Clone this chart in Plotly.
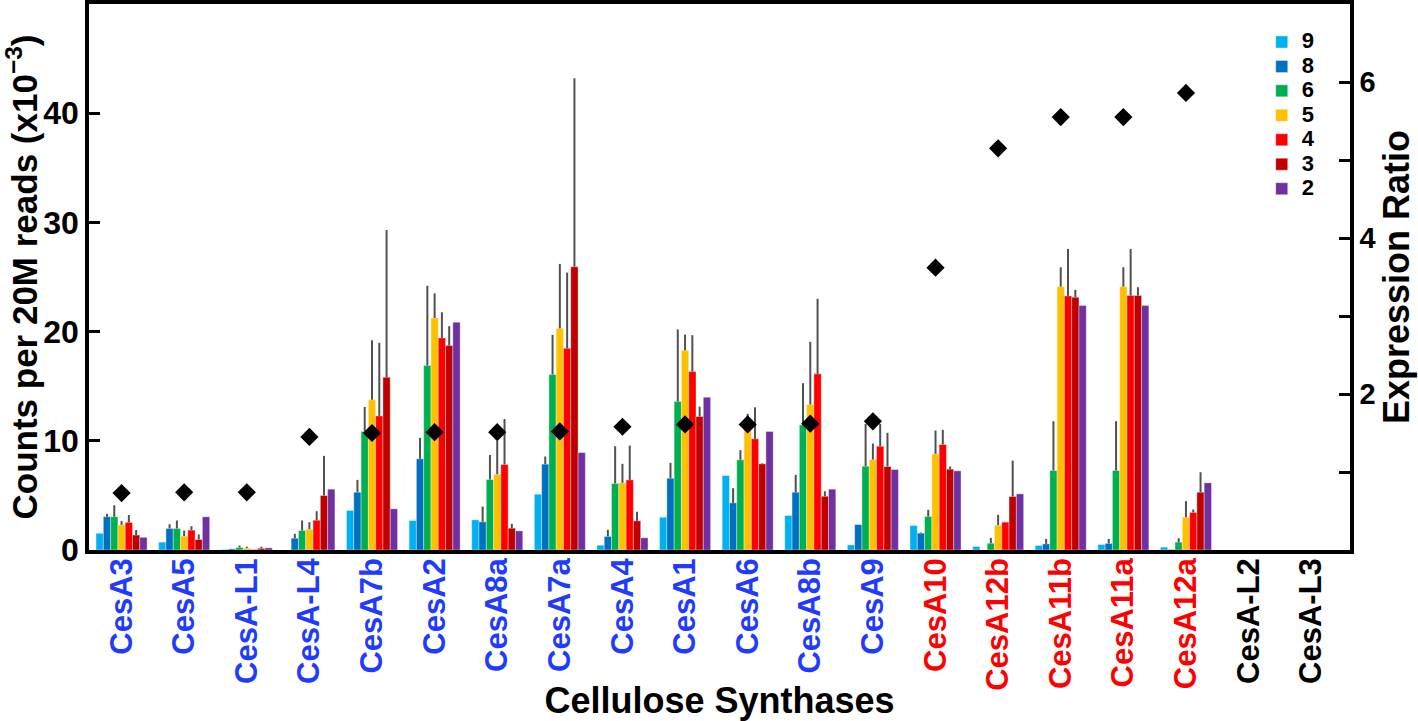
import plotly.graph_objects as go

genes = ["CesA3", "CesA5", "CesA-L1", "CesA-L4", "CesA7b", "CesA2", "CesA8a", "CesA7a",
         "CesA4", "CesA1", "CesA6", "CesA8b", "CesA9", "CesA10", "CesA12b", "CesA11b",
         "CesA11a", "CesA12a", "CesA-L2", "CesA-L3"]
label_colors = ["#1F3BFF"] * 13 + ["#FF0000"] * 5 + ["#000000"] * 2

series_names = ["9", "8", "6", "5", "4", "3", "2"]
series_colors = ["#00B0F0", "#0070C0", "#00B050", "#FFC000", "#FF0000", "#C00000", "#7030A0"]

s9 = [1.53, 0.72, 0.05, 0, 3.62, 2.70, 2.76, 5.11, 0.44, 3.0, 6.82, 3.16, 0.47, 2.24, 0.32, 0.41, 0.5, 0.26, 0, 0]
s8 = [3.05, 1.97, 0.1, 1.08, 5.29, 8.35, 2.58, 7.86, 1.24, 6.57, 4.32, 5.29, 2.33, 1.54, 0, 0.56, 0.6, 0.05, 0, 0]
s6 = [3.05, 1.97, 0.23, 1.78, 10.85, 16.89, 6.45, 16.07, 6.09, 13.59, 8.26, 11.46, 7.67, 3.07, 0.62, 7.28, 7.28, 0.72, 0, 0]
s5 = [2.29, 1.27, 0.17, 1.9, 13.75, 21.25, 6.94, 20.3, 6.15, 18.29, 11.1, 13.32, 8.28, 8.8, 2.27, 24.12, 24.12, 3.0, 0, 0]
s4 = [2.53, 1.82, 0.05, 2.73, 12.28, 19.42, 7.83, 18.47, 6.42, 16.34, 10.18, 16.13, 9.5, 9.66, 2.55, 23.27, 23.3, 3.43, 0, 0]
s3 = [1.37, 0.96, 0.15, 4.99, 15.82, 18.72, 2.0, 25.95, 2.67, 12.22, 7.89, 4.92, 7.64, 7.4, 4.9, 23.14, 23.3, 5.29, 0, 0]
s2 = [1.16, 3.04, 0.2, 5.57, 3.77, 20.85, 1.75, 8.92, 1.12, 13.99, 10.85, 5.57, 7.37, 7.25, 5.14, 22.38, 22.38, 6.15, 0, 0]

e9 = [0] * 20
e8 = [0.25, 0.39, 0, 0.4, 1.13, 1.92, 1.4, 0.7, 0.61, 1.41, 1.34, 1.59, 0, 0.06, 0, 0.46, 0.42, 0, 0, 0]
e6 = [1.05, 0.73, 0.17, 0.92, 2.25, 7.31, 2.26, 3.63, 3.41, 6.61, 0.88, 3.81, 3.88, 0.61, 0.49, 4.51, 4.51, 0.36, 0, 0]
e5 = [0.36, 0.51, 0.13, 0.65, 5.45, 2.25, 3.06, 5.9, 1.74, 1.44, 1.37, 5.74, 1.47, 2.14, 0.95, 1.77, 1.77, 1.47, 0, 0]
e4 = [0.67, 0.36, 0, 0.82, 6.69, 2.35, 4.17, 6.93, 3.14, 3.33, 2.89, 6.87, 2.05, 1.34, 0, 4.3, 4.27, 0.28, 0, 0]
e3 = [0.46, 0.46, 0.15, 3.63, 13.48, 1.78, 0.4, 17.25, 0.83, 0.91, 0.06, 0.46, 3.09, 0.24, 3.29, 0.68, 0.76, 1.83, 0, 0]
e2 = [0] * 20

ratio = [0.73, 0.74, 0.74, 1.45, 1.50, 1.51, 1.51, 1.52, 1.58, 1.61, 1.61, 1.62, 1.65,
         3.62, 5.15, 5.55, 5.55, 5.86, None, None]

left_ticks = [0, 10, 20, 30, 40]
right_ticks = [2, 4, 6]

FONT = "Liberation Sans, Arial, sans-serif"

fig = go.Figure()
values = [s9, s8, s6, s5, s4, s3, s2]
errors = [e9, e8, e6, e5, e4, e3, e2]
for name, col, vals, errs in zip(series_names, series_colors, values, errors):
    fig.add_trace(go.Bar(
        x=genes, y=vals, name=f'<span style="font-size:22px">{name}</span>',
        marker=dict(color=col, line=dict(color="rgba(255,255,255,0.6)", width=0.6)),
        error_y=dict(type="data", symmetric=False, array=errs, arrayminus=[0] * len(errs),
                     color="#505050", thickness=2, width=0, visible=True),
    ))

fig.add_trace(go.Scatter(
    x=genes, y=ratio, yaxis="y2", mode="markers", showlegend=False,
    marker=dict(symbol="diamond", size=14, color="black"),
))

ticktext = [f'<span style="color:{c}">{g}</span>' for g, c in zip(genes, label_colors)]

fig.update_layout(
    width=1418, height=721,
    margin=dict(l=89, r=68, t=4, b=171, autoexpand=False),
    paper_bgcolor="white", plot_bgcolor="white",
    barmode="group", bargap=0.185, bargroupgap=0,
    font=dict(family=FONT, color="black"),
    showlegend=True,
    legend=dict(x=0.93, y=0.962, xanchor="left", yanchor="top",
                bgcolor="rgba(0,0,0,0)", borderwidth=0,
                font=dict(size=16.5, family=FONT, weight="bold"),
                itemwidth=30, tracegroupgap=0),
    xaxis=dict(
        range=[-0.52, 19.62],
        tickvals=genes, ticktext=ticktext, tickangle=-90,
        tickfont=dict(size=31, family=FONT, weight="bold"),
        ticks="", ticklabelstandoff=-8, showgrid=False, zeroline=False,
        showline=True, linecolor="black", linewidth=3.5, mirror=True,
        title=dict(text="Cellulose Synthases", standoff=2,
                   font=dict(size=36, family=FONT, weight="bold")),
    ),
    yaxis=dict(
        range=[0, 50], tickvals=left_ticks,
        tickfont=dict(size=32, family=FONT, weight="bold"),
        ticks="inside", ticklen=11, tickwidth=3, tickcolor="black",
        showgrid=False, zeroline=False,
        showline=True, linecolor="black", linewidth=3.5, mirror=True,
        title=dict(text="Counts per 20M reads (x10<sup>\u22123</sup>)", standoff=4,
                   font=dict(size=35, family=FONT, weight="bold")),
    ),
    yaxis2=dict(
        range=[0, 7], overlaying="y", side="right",
        tickvals=right_ticks,
        tickfont=dict(size=29, family=FONT, weight="bold"),
        ticks="inside", ticklen=11, tickwidth=3, tickcolor="black",
        minor=dict(dtick=1, tick0=0, ticks="inside", ticklen=11, tickwidth=3, tickcolor="black"),
        showgrid=False, zeroline=False,
        showline=True, linecolor="black", linewidth=3.5,
        title=dict(text="Expression Ratio", standoff=6,
                   font=dict(size=36, family=FONT, weight="bold")),
    ),
)

fig.write_html("out.html", config={"displayModeBar": False},
               post_script="document.body.style.margin='0px';")
